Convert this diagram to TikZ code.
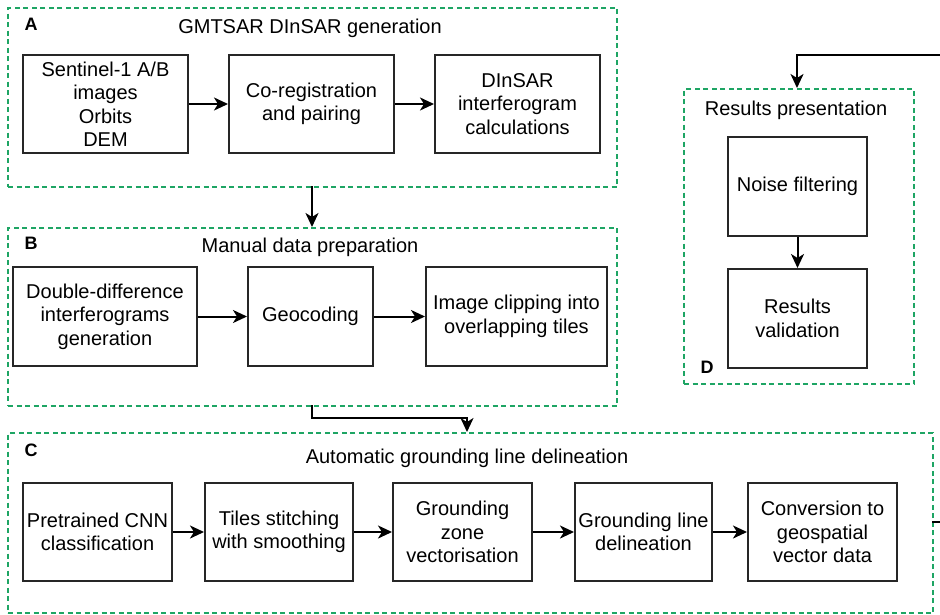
\documentclass[tikz,border=0pt]{standalone}
\usepackage{fontspec}
\setmainfont{Liberation Sans}
\usetikzlibrary{arrows.meta,positioning}
\definecolor{grpgreen}{RGB}{30,165,100}
\tikzset{
  grp/.style={draw=grpgreen, line width=2pt, dash pattern=on 5pt off 3.5pt, anchor=north west, inner sep=0pt},
  box/.style={draw=black!85, line width=2pt, align=center, inner sep=1pt, font=\fontsize{20}{23.5}\selectfont},
  ttl/.style={font=\fontsize{20}{23.5}\selectfont},
  lbl/.style={font=\fontsize{18}{20}\selectfont\bfseries},
  arr/.style={line width=2pt, -{Stealth[length=14pt,width=13pt,inset=4pt]}},
}
\begin{document}
\begin{tikzpicture}[x=1pt,y=-1pt]
\useasboundingbox (0,0) rectangle (940,614);
\clip (0,0) rectangle (940,614);
% groups
\node[grp, minimum width=609, minimum height=179] (A) at (7,7) {};
\node[grp, minimum width=609, minimum height=178] (B) at (7,227) {};
\node[grp, minimum width=925, minimum height=180] (C) at (7,432) {};
\node[grp, minimum width=230, minimum height=295] (D) at (683,88) {};
% group titles and letters
\node[lbl] (lA) at (31,24) {A};
\node[ttl] (tA) at (310,28) {GMTSAR DInSAR generation};
\node[lbl] (lB) at (31,243) {B};
\node[ttl] (tB) at (310,247) {Manual data preparation};
\node[lbl] (lC) at (31,450) {C};
\node[ttl] (tC) at (467,458) {Automatic grounding line delineation};
\node[ttl] (tD) at (796,110) {Results presentation};
\node[lbl] (lD) at (707,367) {D};
% A boxes
\node[box, minimum width=165, minimum height=98] (a1) at (105.5,104) {Sentinel-1 A/B\\images\\Orbits\\DEM};
\node[box, minimum width=165, minimum height=98] (a2) at (311.5,104) {Co-registration\\and pairing};
\node[box, minimum width=165, minimum height=98] (a3) at (517.5,104) {DInSAR\\interferogram\\calculations};
% B boxes
\node[box, minimum width=184, minimum height=99] (b1) at (105,316.5) {Double-difference\\interferograms\\generation};
\node[box, minimum width=125, minimum height=99] (b2) at (310.5,316.5) {Geocoding};
\node[box, minimum width=181, minimum height=99] (b3) at (516.5,316.5) {Image clipping into\\overlapping tiles};
% C boxes
\node[box, minimum width=149, minimum height=98] (c1) at (97.5,532) {Pretrained CNN\\classification};
\node[box, minimum width=148, minimum height=98] (c2) at (279,532) {Tiles stitching\\with smoothing};
\node[box, minimum width=139, minimum height=98] (c3) at (462.5,532) {Grounding\\zone\\vectorisation};
\node[box, minimum width=137, minimum height=98] (c4) at (643.5,532) {Grounding line\\delineation};
\node[box, minimum width=149, minimum height=98] (c5) at (822.5,532) {Conversion to\\geospatial\\vector data};
% D boxes
\node[box, minimum width=139, minimum height=99] (d1) at (797.5,186.5) {Noise filtering};
\node[box, minimum width=139, minimum height=99] (d2) at (797.5,318.5) {Results\\validation};
% arrows inside groups
\draw[arr] (a1) -- (a2);
\draw[arr] (a2) -- (a3);
\draw[arr] (b1) -- (b2);
\draw[arr] (b2) -- (b3);
\draw[arr] (c1) -- (c2);
\draw[arr] (c2) -- (c3);
\draw[arr] (c3) -- (c4);
\draw[arr] (c4) -- (c5);
\draw[arr] (d1) -- (d2);
% arrows between groups
\coordinate (ab) at (312,186);
\coordinate (bt0) at (312,227);
\draw[arr] (ab) -- (bt0);
\coordinate (bb) at (312,405);
\coordinate (bt) at (312,418);
\coordinate (ct) at (467,432);
\draw[arr] (bb) -- (bt) -| (ct);
\coordinate (ce) at (932,522);
\coordinate (cr) at (960,522);
\coordinate (dtop) at (797,55);
\coordinate (dt) at (797,88);
\draw[arr] (ce) -- (cr) |- (dtop) -- (dt);
\end{tikzpicture}
\end{document}
